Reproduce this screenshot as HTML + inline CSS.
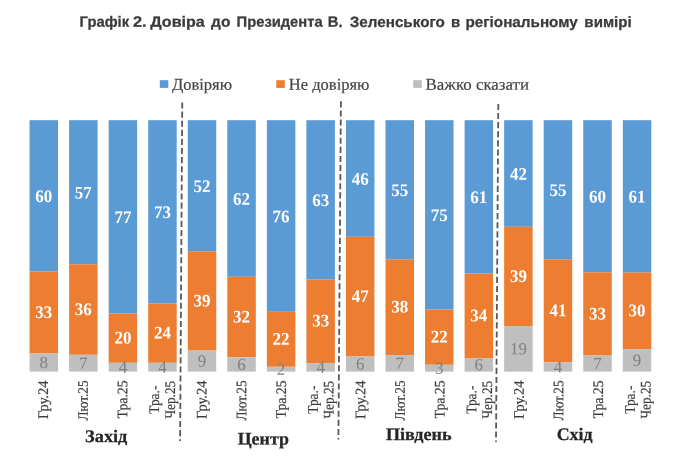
<!DOCTYPE html>
<html lang="uk"><head><meta charset="utf-8"><title>Графік 2</title>
<style>
html,body{margin:0;padding:0;background:#fff;}
body{width:690px;height:456px;overflow:hidden;}
svg{display:block}
text{font-family:"Liberation Serif","Times New Roman",serif}
.t{font-family:"Liberation Sans",Arial,sans-serif;font-weight:bold;font-size:15px;fill:#3a3a3a;stroke:#3a3a3a;stroke-width:0.25px}
.lg{font-size:16.5px;fill:#444;stroke:#444;stroke-width:0.2px}
.dl{font-size:17.7px;font-weight:bold;fill:#fff;text-anchor:middle}
.dg{font-size:17px;fill:#7f7f7f;text-anchor:middle}
.ax{font-size:14.6px;fill:#3c3c3c;stroke:#3c3c3c;stroke-width:0.2px}
.gr{font-size:17.6px;font-weight:bold;fill:#262626;stroke:#262626;stroke-width:0.25px}
.dash{stroke:#595959;stroke-width:1.8;stroke-dasharray:6.1 3;fill:none}
</style></head><body>
<svg width="690" height="456" viewBox="0 0 690 456">
<rect width="690" height="456" fill="#fff"/>
<text class="t" transform="translate(0,26.7) rotate(0.03)"><tspan x="79.62" textLength="49.48" lengthAdjust="spacingAndGlyphs">Графік</tspan> <tspan x="132.95" textLength="13.65" lengthAdjust="spacingAndGlyphs">2.</tspan> <tspan x="150.20" textLength="54.53" lengthAdjust="spacingAndGlyphs">Довіра</tspan> <tspan x="211.10" textLength="19.35" lengthAdjust="spacingAndGlyphs">до</tspan> <tspan x="236.62" textLength="86.01" lengthAdjust="spacingAndGlyphs">Президента</tspan> <tspan x="327.72" textLength="14.77" lengthAdjust="spacingAndGlyphs">В.</tspan> <tspan x="349.75" textLength="95.15" lengthAdjust="spacingAndGlyphs">Зеленського</tspan> <tspan x="450.91" textLength="9.17" lengthAdjust="spacingAndGlyphs">в</tspan> <tspan x="465.48" textLength="112.33" lengthAdjust="spacingAndGlyphs">регіональному</tspan> <tspan x="584.39" textLength="47.36" lengthAdjust="spacingAndGlyphs">вимірі</tspan></text>
<rect x="159.8" y="80.2" width="8.5" height="7.7" fill="#5B9BD5"/><text class="lg" transform="translate(171.90,89.80) rotate(0.03) scale(1.0017,1)">Довіряю</text>
<rect x="276.3" y="80.2" width="8.5" height="7.7" fill="#ED7D31"/><text class="lg" transform="translate(288.80,89.80) rotate(0.03) scale(1.0013,1)">Не довіряю</text>
<rect x="413.2" y="80.2" width="8.6" height="7.7" fill="#BFBFBF"/><text class="lg" transform="translate(425.49,89.80) rotate(0.03) scale(1.0234,1)">Важко сказати</text>
<rect x="29.55" y="120.2" width="28.5" height="151.10" fill="#5B9BD5"/><rect x="29.55" y="271.3" width="28.5" height="82.25" fill="#ED7D31"/><rect x="29.55" y="353.55" width="28.5" height="18.05" fill="#BFBFBF"/>
<text class="dl" transform="translate(43.80,201.90) rotate(0.03) scale(0.9600,1)">60</text><text class="dl" transform="translate(43.80,317.88) rotate(0.03) scale(0.9600,1)">33</text><text class="dg" transform="translate(43.80,368.03) rotate(0.03)">8</text>
<text class="ax" text-anchor="end" transform="translate(48.05,380.40) rotate(-89.97)">Гру.24</text>
<rect x="69.10" y="120.2" width="28.5" height="144.10" fill="#5B9BD5"/><rect x="69.10" y="264.3" width="28.5" height="90.50" fill="#ED7D31"/><rect x="69.10" y="354.8" width="28.5" height="16.80" fill="#BFBFBF"/>
<text class="dl" transform="translate(83.35,198.40) rotate(0.03) scale(0.9600,1)">57</text><text class="dl" transform="translate(83.35,315.00) rotate(0.03) scale(0.9600,1)">36</text><text class="dg" transform="translate(83.35,368.65) rotate(0.03)">7</text>
<text class="ax" text-anchor="end" transform="translate(87.69,380.40) rotate(-89.97) scale(0.9100,1)">Лют.25</text>
<rect x="108.65" y="120.2" width="28.5" height="193.35" fill="#5B9BD5"/><rect x="108.65" y="313.55" width="28.5" height="49.25" fill="#ED7D31"/><rect x="108.65" y="362.8" width="28.5" height="8.80" fill="#BFBFBF"/>
<text class="dl" transform="translate(122.90,223.03) rotate(0.03) scale(0.9600,1)">77</text><text class="dl" transform="translate(122.90,343.62) rotate(0.03) scale(0.9600,1)">20</text><text class="dg" transform="translate(122.90,372.65) rotate(0.03)">4</text>
<text class="ax" text-anchor="end" transform="translate(127.33,380.40) rotate(-89.97) scale(0.9430,1)">Тра.25</text>
<rect x="148.20" y="120.2" width="28.5" height="183.35" fill="#5B9BD5"/><rect x="148.20" y="303.55" width="28.5" height="59.25" fill="#ED7D31"/><rect x="148.20" y="362.8" width="28.5" height="8.80" fill="#BFBFBF"/>
<text class="dl" transform="translate(162.45,218.03) rotate(0.03) scale(0.9600,1)">73</text><text class="dl" transform="translate(162.45,338.62) rotate(0.03) scale(0.9600,1)">24</text><text class="dg" transform="translate(162.45,372.65) rotate(0.03)">4</text>
<text class="ax" text-anchor="middle" transform="translate(159.12,399.70) rotate(-89.97) scale(0.9180,1)">Тра.-</text><text class="ax" text-anchor="middle" transform="translate(174.92,399.70) rotate(-89.97) scale(0.9070,1)">Чер.25</text>
<rect x="187.75" y="120.2" width="28.5" height="131.10" fill="#5B9BD5"/><rect x="187.75" y="251.3" width="28.5" height="99.25" fill="#ED7D31"/><rect x="187.75" y="350.55" width="28.5" height="21.05" fill="#BFBFBF"/>
<text class="dl" transform="translate(202.00,191.90) rotate(0.03) scale(0.9600,1)">52</text><text class="dl" transform="translate(202.00,306.38) rotate(0.03) scale(0.9600,1)">39</text><text class="dg" transform="translate(202.00,366.53) rotate(0.03)">9</text>
<text class="ax" text-anchor="end" transform="translate(206.61,380.40) rotate(-89.97)">Гру.24</text>
<rect x="227.30" y="120.2" width="28.5" height="156.60" fill="#5B9BD5"/><rect x="227.30" y="276.8" width="28.5" height="80.50" fill="#ED7D31"/><rect x="227.30" y="357.3" width="28.5" height="14.30" fill="#BFBFBF"/>
<text class="dl" transform="translate(241.55,204.65) rotate(0.03) scale(0.9600,1)">62</text><text class="dl" transform="translate(241.55,322.50) rotate(0.03) scale(0.9600,1)">32</text><text class="dg" transform="translate(241.55,369.90) rotate(0.03)">6</text>
<text class="ax" text-anchor="end" transform="translate(246.25,380.40) rotate(-89.97) scale(0.9100,1)">Лют.25</text>
<rect x="266.85" y="120.2" width="28.5" height="191.60" fill="#5B9BD5"/><rect x="266.85" y="311.8" width="28.5" height="55.00" fill="#ED7D31"/><rect x="266.85" y="366.8" width="28.5" height="4.80" fill="#BFBFBF"/>
<text class="dl" transform="translate(281.10,222.15) rotate(0.03) scale(0.9600,1)">76</text><text class="dl" transform="translate(281.10,344.75) rotate(0.03) scale(0.9600,1)">22</text><text class="dg" transform="translate(281.10,374.65) rotate(0.03)">2</text>
<text class="ax" text-anchor="end" transform="translate(285.89,380.40) rotate(-89.97) scale(0.9430,1)">Тра.25</text>
<rect x="306.40" y="120.2" width="28.5" height="159.10" fill="#5B9BD5"/><rect x="306.40" y="279.3" width="28.5" height="83.75" fill="#ED7D31"/><rect x="306.40" y="363.05" width="28.5" height="8.55" fill="#BFBFBF"/>
<text class="dl" transform="translate(320.65,205.90) rotate(0.03) scale(0.9600,1)">63</text><text class="dl" transform="translate(320.65,326.62) rotate(0.03) scale(0.9600,1)">33</text><text class="dg" transform="translate(320.65,372.78) rotate(0.03)">4</text>
<text class="ax" text-anchor="middle" transform="translate(317.68,399.70) rotate(-89.97) scale(0.9180,1)">Тра.-</text><text class="ax" text-anchor="middle" transform="translate(333.48,399.70) rotate(-89.97) scale(0.9070,1)">Чер.25</text>
<rect x="345.95" y="120.2" width="28.5" height="116.60" fill="#5B9BD5"/><rect x="345.95" y="236.8" width="28.5" height="119.75" fill="#ED7D31"/><rect x="345.95" y="356.55" width="28.5" height="15.05" fill="#BFBFBF"/>
<text class="dl" transform="translate(360.20,184.65) rotate(0.03) scale(0.9600,1)">46</text><text class="dl" transform="translate(360.20,302.12) rotate(0.03) scale(0.9600,1)">47</text><text class="dg" transform="translate(360.20,369.53) rotate(0.03)">6</text>
<text class="ax" text-anchor="end" transform="translate(365.17,380.40) rotate(-89.97)">Гру.24</text>
<rect x="385.50" y="120.2" width="28.5" height="139.10" fill="#5B9BD5"/><rect x="385.50" y="259.3" width="28.5" height="95.75" fill="#ED7D31"/><rect x="385.50" y="355.05" width="28.5" height="16.55" fill="#BFBFBF"/>
<text class="dl" transform="translate(399.75,195.90) rotate(0.03) scale(0.9600,1)">55</text><text class="dl" transform="translate(399.75,312.62) rotate(0.03) scale(0.9600,1)">38</text><text class="dg" transform="translate(399.75,368.78) rotate(0.03)">7</text>
<text class="ax" text-anchor="end" transform="translate(404.81,380.40) rotate(-89.97) scale(0.9100,1)">Лют.25</text>
<rect x="425.05" y="120.2" width="28.5" height="189.35" fill="#5B9BD5"/><rect x="425.05" y="309.55" width="28.5" height="55.25" fill="#ED7D31"/><rect x="425.05" y="364.8" width="28.5" height="6.80" fill="#BFBFBF"/>
<text class="dl" transform="translate(439.30,221.03) rotate(0.03) scale(0.9600,1)">75</text><text class="dl" transform="translate(439.30,342.62) rotate(0.03) scale(0.9600,1)">22</text><text class="dg" transform="translate(439.30,373.65) rotate(0.03)">3</text>
<text class="ax" text-anchor="end" transform="translate(444.45,380.40) rotate(-89.97) scale(0.9430,1)">Тра.25</text>
<rect x="464.60" y="120.2" width="28.5" height="153.35" fill="#5B9BD5"/><rect x="464.60" y="273.55" width="28.5" height="84.50" fill="#ED7D31"/><rect x="464.60" y="358.05" width="28.5" height="13.55" fill="#BFBFBF"/>
<text class="dl" transform="translate(478.85,203.03) rotate(0.03) scale(0.9600,1)">61</text><text class="dl" transform="translate(478.85,321.25) rotate(0.03) scale(0.9600,1)">34</text><text class="dg" transform="translate(478.85,370.28) rotate(0.03)">6</text>
<text class="ax" text-anchor="middle" transform="translate(476.24,399.70) rotate(-89.97) scale(0.9180,1)">Тра.-</text><text class="ax" text-anchor="middle" transform="translate(492.04,399.70) rotate(-89.97) scale(0.9070,1)">Чер.25</text>
<rect x="504.15" y="120.2" width="28.5" height="106.60" fill="#5B9BD5"/><rect x="504.15" y="226.8" width="28.5" height="99.25" fill="#ED7D31"/><rect x="504.15" y="326.05" width="28.5" height="45.55" fill="#BFBFBF"/>
<text class="dl" transform="translate(518.40,179.65) rotate(0.03) scale(0.9600,1)">42</text><text class="dl" transform="translate(518.40,281.88) rotate(0.03) scale(0.9600,1)">39</text><text class="dg" transform="translate(518.40,354.28) rotate(0.03)">19</text>
<text class="ax" text-anchor="end" transform="translate(523.73,380.40) rotate(-89.97)">Гру.24</text>
<rect x="543.70" y="120.2" width="28.5" height="139.10" fill="#5B9BD5"/><rect x="543.70" y="259.3" width="28.5" height="103.00" fill="#ED7D31"/><rect x="543.70" y="362.3" width="28.5" height="9.30" fill="#BFBFBF"/>
<text class="dl" transform="translate(557.95,195.90) rotate(0.03) scale(0.9600,1)">55</text><text class="dl" transform="translate(557.95,316.25) rotate(0.03) scale(0.9600,1)">41</text><text class="dg" transform="translate(557.95,372.40) rotate(0.03)">4</text>
<text class="ax" text-anchor="end" transform="translate(563.37,380.40) rotate(-89.97) scale(0.9100,1)">Лют.25</text>
<rect x="583.25" y="120.2" width="28.5" height="152.10" fill="#5B9BD5"/><rect x="583.25" y="272.3" width="28.5" height="83.25" fill="#ED7D31"/><rect x="583.25" y="355.55" width="28.5" height="16.05" fill="#BFBFBF"/>
<text class="dl" transform="translate(597.50,202.40) rotate(0.03) scale(0.9600,1)">60</text><text class="dl" transform="translate(597.50,319.38) rotate(0.03) scale(0.9600,1)">33</text><text class="dg" transform="translate(597.50,369.03) rotate(0.03)">7</text>
<text class="ax" text-anchor="end" transform="translate(603.01,380.40) rotate(-89.97) scale(0.9430,1)">Тра.25</text>
<rect x="622.80" y="120.2" width="28.5" height="152.35" fill="#5B9BD5"/><rect x="622.80" y="272.55" width="28.5" height="76.50" fill="#ED7D31"/><rect x="622.80" y="349.05" width="28.5" height="22.55" fill="#BFBFBF"/>
<text class="dl" transform="translate(637.05,202.53) rotate(0.03) scale(0.9600,1)">61</text><text class="dl" transform="translate(637.05,316.25) rotate(0.03) scale(0.9600,1)">30</text><text class="dg" transform="translate(637.05,365.78) rotate(0.03)">9</text>
<text class="ax" text-anchor="middle" transform="translate(634.80,399.70) rotate(-89.97) scale(0.9180,1)">Тра.-</text><text class="ax" text-anchor="middle" transform="translate(650.60,399.70) rotate(-89.97) scale(0.9070,1)">Чер.25</text>
<line class="dash" x1="182.25" y1="102.5" x2="180.1" y2="441"/>
<line class="dash" x1="340.9" y1="101.3" x2="338.4" y2="439.4"/>
<line class="dash" x1="498.3" y1="103.9" x2="496" y2="441.9"/>
<text class="gr" transform="translate(85.12,442.10) rotate(0.03) scale(1.0390,1)">Захід</text>
<text class="gr" transform="translate(237.70,444.60) rotate(0.03) scale(1.0172,1)">Центр</text>
<text class="gr" transform="translate(385.94,440.00) rotate(0.03) scale(1.0292,1)">Південь</text>
<text class="gr" transform="translate(556.64,440.00) rotate(0.03) scale(1.0188,1)">Схід</text>
</svg>
</body></html>
